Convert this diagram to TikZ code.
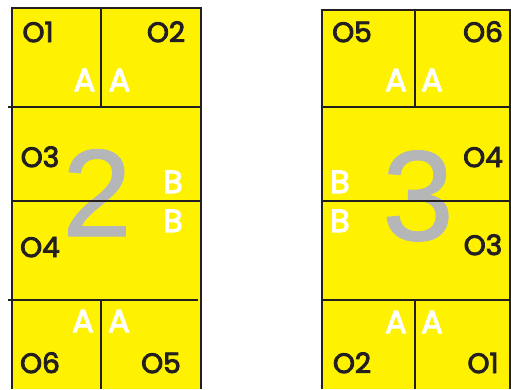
\documentclass[tikz,border=0pt]{standalone}
\usepackage{fontspec}
\newfontfamily\popfont[FakeBold=3.2]{Poppins}
\newfontfamily\bigfont[FakeBold=1]{Liberation Sans}
\definecolor{panelyellow}{HTML}{FFF200}
\definecolor{biggray}{HTML}{B4B6B8}
\definecolor{linedark}{HTML}{231F20}
\begin{document}
\begin{tikzpicture}[x=1pt,y=-1pt,
  panel/.style={fill=panelyellow,draw=none},
  rule/.style={draw=linedark,line width=1.5pt},
  num/.style={inner sep=0pt,anchor=base,text=linedark,font=\popfont\fontsize{28}{28}\selectfont},
  side/.style={inner sep=0pt,anchor=base,text=white,font=\popfont\fontsize{32}{32}\selectfont},
  bignum/.style={inner sep=0pt,anchor=base,text=biggray}]
\useasboundingbox (0,0) rectangle (511,389);
% panels
\fill[panel] (12,8) rectangle (201,389);
\fill[panel] (322,10) rectangle (511,389);
% big numbers
\node[bignum,font=\bigfont\fontsize{124}{124}\selectfont] (two) at (97,236) {2};
\node[bignum,font=\bigfont\fontsize{128}{128}\selectfont] (three) at (418,240) {3};
% left panel lines
\draw[rule] (12,389) -- (12,8) -- (201,8) -- (201,389);
\draw[rule] (8,107) -- (200,107);
\draw[rule] (12,201) -- (200,201);
\draw[rule] (8,300) -- (198,300);
\draw[rule] (101,8) -- (101,107);
\draw[rule] (101,300) -- (101,389);
% right panel lines
\draw[rule] (322,389) -- (322,10) -- (510,10) -- (510,389);
\draw[rule] (322,107) -- (511,107);
\draw[rule] (322,201) -- (511,201);
\draw[rule] (322,300) -- (511,300);
\draw[rule] (415,10) -- (415,107);
\draw[rule] (415,300) -- (415,389);
% left labels
\node[num] (l01) at (38,42) {O1};
\node[num] (l02) at (166,42) {O2};
\node[side] (lA1) at (84.5,91) {A};
\node[side] (lA2) at (119.5,91) {A};
\node[num] (l03) at (40,167) {O3};
\node[side] (lB1) at (173,193) {B};
\node[side] (lB2) at (173,232) {B};
\node[num] (l04) at (40,257) {O4};
\node[side] (lA3) at (83,332) {A};
\node[side] (lA4) at (119,332) {A};
\node[num] (l06) at (40,373) {O6};
\node[num] (l05) at (161,373) {O5};
% right labels
\node[num] (r05) at (352,42) {O5};
\node[num] (r06) at (483,42) {O6};
\node[side] (rA1) at (396,91) {A};
\node[side] (rA2) at (432,91) {A};
\node[num] (r04) at (483,167) {O4};
\node[side] (rB1) at (340,193) {B};
\node[side] (rB2) at (340,232) {B};
\node[num] (r03) at (483,255) {O3};
\node[side] (rA3) at (396,333) {A};
\node[side] (rA4) at (432,333) {A};
\node[num] (r02) at (352,373) {O2};
\node[num] (r01) at (483,373) {O1};
\end{tikzpicture}
\end{document}
